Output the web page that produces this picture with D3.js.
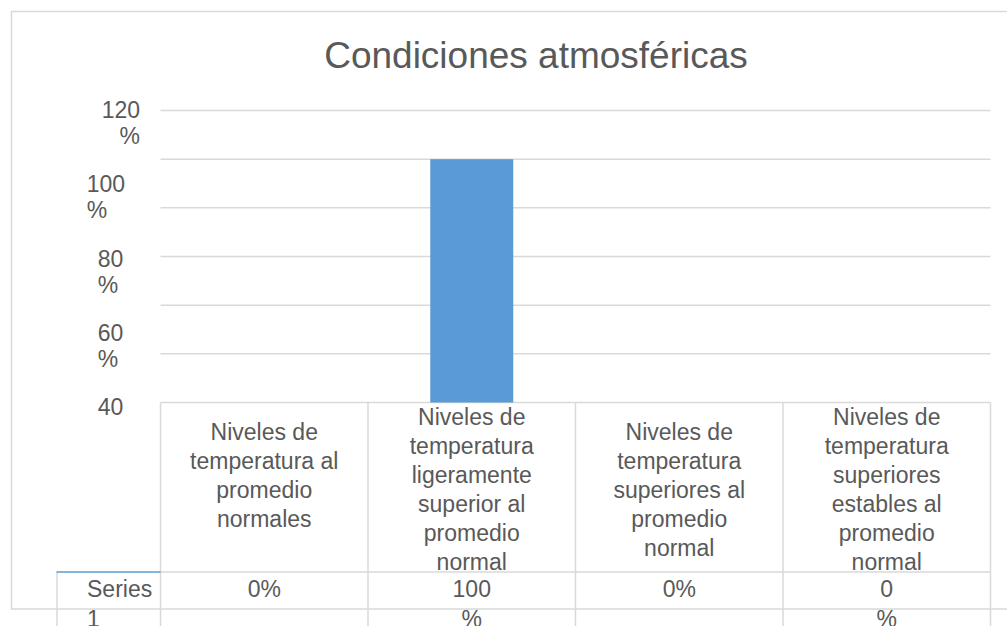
<!DOCTYPE html>
<html>
<head>
<meta charset="utf-8">
<script src="https://cdn.jsdelivr.net/npm/d3@7"></script>
<style>
  html, body { margin: 0; padding: 0; background: #ffffff; overflow: hidden; }
  svg { display: block; font-family: "Liberation Sans", Arial, sans-serif; }
</style>
</head>
<body>
<svg id="chart" width="1007" height="626"></svg>
<script>
// Chart content
const chartTitle = "Condiciones atmosféricas";
const categories = [
  "Niveles de temperatura al promedio normales",
  "Niveles de temperatura ligeramente superior al promedio normal",
  "Niveles de temperatura superiores al promedio normal",
  "Niveles de temperatura superiores estables al promedio normal"
];
const seriesName = "Series 1";
const seriesValues = [0, 100, 0, 0];           // percent
const yTicks = [0, 20, 40, 60, 80, 100, 120];  // gridlines
const yTickLabels = ["120 %", "100 %", "80 %", "60 %", "40"]; // labels that fit in the axis area

const svg = d3.select("#chart");
const textColor = "#595959";
const gridColor = "#d9d9d9";
const barColor = "#5b9bd5";

// Plot geometry
const plotLeft = 160.5, plotRight = 990.5;
const plotTop = 110.5, plotBottom = 402.5;
const headerBottom = 572, rowLineY = 609;

const x = d3.scaleBand()
  .domain(categories)
  .range([plotLeft, plotRight])
  .paddingInner(0.6)
  .paddingOuter(0.3);

const colX = d3.scaleBand()
  .domain(categories)
  .range([plotLeft, plotRight]);

const y = d3.scaleLinear()
  .domain([0, 120])
  .range([plotBottom, plotTop]);

// Chart area border (right edge falls outside the view)
svg.append("path")
  .attr("d", `M1010,11.5 H11.5 V${rowLineY} H1010`)
  .attr("fill", "none")
  .attr("stroke", gridColor)
  .attr("stroke-width", 1.5);

// Title
svg.append("text")
  .attr("x", 536)
  .attr("y", 68)
  .attr("text-anchor", "middle")
  .attr("fill", textColor)
  .attr("font-size", 37)
  .text(chartTitle);

// Horizontal gridlines
svg.append("g")
  .selectAll("line")
  .data(yTicks)
  .join("line")
  .attr("x1", plotLeft)
  .attr("x2", plotRight)
  .attr("y1", d => y(d))
  .attr("y2", d => y(d))
  .attr("stroke", gridColor)
  .attr("stroke-width", 1.5);

// Bars
svg.append("g")
  .selectAll("rect")
  .data(seriesValues)
  .join("rect")
  .attr("x", (d, i) => x(categories[i]))
  .attr("width", x.bandwidth())
  .attr("y", d => y(d))
  .attr("height", d => y(0) - y(d))
  .attr("fill", barColor);

// Y axis labels, wrapped onto two lines where the axis area is too narrow
const yLabelLayout = [
  { x: 140, anchor: "end" },
  { x: 86.7, anchor: "start" },
  { x: 97.7, anchor: "start" },
  { x: 97.7, anchor: "start" },
  { x: 97.7, anchor: "start" }
];
const yLabelG = svg.append("g")
  .attr("fill", textColor)
  .attr("font-size", 23);
yTickLabels.forEach((lbl, i) => {
  const lines = lbl.split(" ");
  const t = yLabelG.append("text")
    .attr("text-anchor", yLabelLayout[i].anchor)
    .attr("x", yLabelLayout[i].x)
    .attr("y", 118 + i * 74.25);
  lines.forEach((ln, k) => {
    t.append("tspan")
      .attr("x", yLabelLayout[i].x)
      .attr("dy", k === 0 ? 0 : 26)
      .text(ln);
  });
});

// Data table grid
const tbl = svg.append("g")
  .attr("stroke", gridColor)
  .attr("stroke-width", 1.5)
  .attr("fill", "none");
const colEdges = categories.map(c => colX(c)).concat([plotRight]);
tbl.selectAll("line.v")
  .data(colEdges)
  .join("line")
  .attr("class", "v")
  .attr("x1", d => d)
  .attr("x2", d => d)
  .attr("y1", plotBottom)
  .attr("y2", 640);
tbl.append("line")
  .attr("x1", 57).attr("x2", 57)
  .attr("y1", headerBottom).attr("y2", 640);
tbl.append("line")
  .attr("x1", plotLeft).attr("x2", plotRight)
  .attr("y1", headerBottom).attr("y2", headerBottom);
// legend key of the series above its row label
svg.append("line")
  .attr("x1", 56.5).attr("x2", plotLeft)
  .attr("y1", headerBottom).attr("y2", headerBottom)
  .attr("stroke", barColor)
  .attr("stroke-width", 1.5);

// Category headers with word wrapping
const headG = svg.append("g")
  .attr("fill", textColor)
  .attr("font-size", 23)
  .attr("text-anchor", "middle");
const lineH = 29;
const maxW = 162;
categories.forEach((cat, i) => {
  const cx = colX(cat) + colX.bandwidth() / 2;
  const t = headG.append("text").attr("x", cx);
  const words = cat.split(" ");
  const lines = [];
  let cur = "";
  const probe = headG.append("text").attr("visibility", "hidden");
  words.forEach(w => {
    const test = cur ? cur + " " + w : w;
    probe.text(test);
    if (cur && probe.node().getComputedTextLength() > maxW) {
      lines.push(cur);
      cur = w;
    } else {
      cur = test;
    }
  });
  if (cur) lines.push(cur);
  probe.remove();
  const first = Math.min(440, 570 - (lines.length - 1) * lineH);
  t.attr("y", first);
  lines.forEach((ln, k) => {
    t.append("tspan")
      .attr("x", cx)
      .attr("dy", k === 0 ? 0 : lineH)
      .text(ln);
  });
});

// Series row: name and values
const fmt = d3.format(".0%");
const wrapCell = [false, true, false, true];
const rowG = svg.append("g")
  .attr("fill", textColor)
  .attr("font-size", 23);
const nameParts = seriesName.split(" ");
const nameText = rowG.append("text").attr("x", 87).attr("y", 597);
nameParts.forEach((p, k) => {
  nameText.append("tspan").attr("x", 87).attr("dy", k === 0 ? 0 : 30).text(p);
});
seriesValues.forEach((v, i) => {
  const cx = colX(categories[i]) + colX.bandwidth() / 2;
  const label = fmt(v / 100);
  const parts = wrapCell[i] ? [label.slice(0, -1), "%"] : [label];
  const t = rowG.append("text")
    .attr("text-anchor", "middle")
    .attr("x", cx)
    .attr("y", 597);
  parts.forEach((p, k) => {
    t.append("tspan").attr("x", cx).attr("dy", k === 0 ? 0 : 30).text(p);
  });
});
</script>
</body>
</html>
